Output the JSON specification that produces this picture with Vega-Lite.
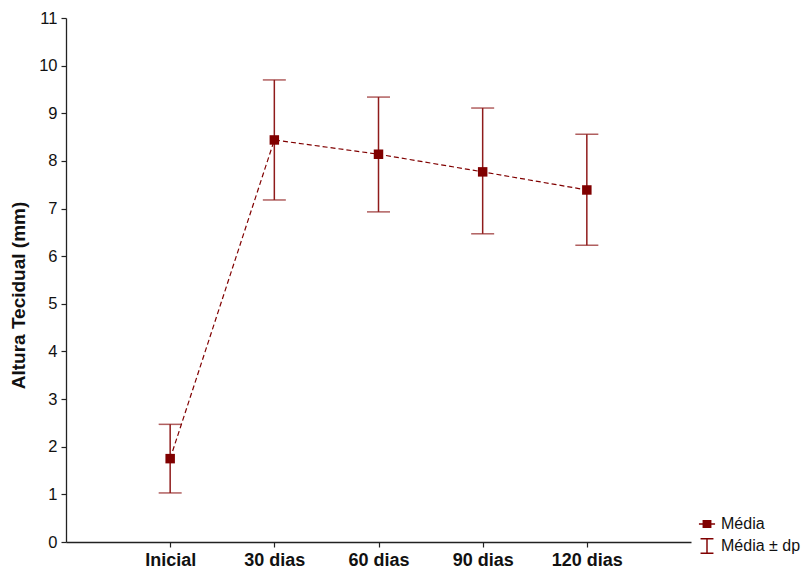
{
  "$schema": "https://vega.github.io/schema/vega-lite/v6.json",
  "width": 625,
  "height": 524,
  "autosize": {"type": "none"},
  "padding": {"left": 66, "top": 18, "right": 120, "bottom": 31},
  "background": "white",
  "config": {
    "view": {"stroke": null},
    "font": "Liberation Sans",
    "axis": {"grid": false, "domainColor": "#222", "tickColor": "#222", "labelColor": "#111", "titleColor": "#111", "domainWidth": 1.3, "tickWidth": 1.2},
    "axisX": {"labelFontSize": 18, "labelFontWeight": "bold", "tickSize": 5, "labelPadding": 4, "labelAngle": 0},
    "axisY": {"labelFontSize": 16.5, "tickSize": 5, "labelPadding": 4, "titleFontSize": 19, "titleFontWeight": "bold", "titlePadding": 10, "titleY": 277}
  },
  "datasets": {
    "main": [
      {"tempo": "Inicial", "media": 1.75, "sup": 2.47, "inf": 1.03},
      {"tempo": "30 dias", "media": 8.44, "sup": 9.7, "inf": 7.18},
      {"tempo": "60 dias", "media": 8.14, "sup": 9.34, "inf": 6.93},
      {"tempo": "90 dias", "media": 7.77, "sup": 9.11, "inf": 6.47},
      {"tempo": "120 dias", "media": 7.39, "sup": 8.56, "inf": 6.23}
    ],
    "leg": [{"s": "Média"}, {"s": "Média ± dp"}]
  },
  "encoding": {
    "x": {
      "field": "tempo", "type": "ordinal",
      "scale": {"type": "point", "padding": 1, "domain": ["Inicial", "30 dias", "60 dias", "90 dias", "120 dias"]},
      "axis": {"title": null}
    }
  },
  "layer": [
    {
      "data": {"name": "main"},
      "mark": {"type": "rule", "stroke": "#8f1b1b", "strokeWidth": 1.5},
      "encoding": {
        "y": {"field": "inf", "type": "quantitative", "scale": {"domain": [0, 11], "nice": false}, "axis": {"title": "Altura Tecidual (mm)", "values": [0,1,2,3,4,5,6,7,8,9,10,11]}},
        "y2": {"field": "sup"}
      }
    },
    {
      "data": {"name": "main"},
      "mark": {"type": "tick", "color": "#8f1b1b", "size": 23, "thickness": 1.5, "orient": "horizontal"},
      "encoding": {"y": {"field": "sup", "type": "quantitative"}}
    },
    {
      "data": {"name": "main"},
      "mark": {"type": "tick", "color": "#8f1b1b", "size": 23, "thickness": 1.5, "orient": "horizontal"},
      "encoding": {"y": {"field": "inf", "type": "quantitative"}}
    },
    {
      "data": {"name": "main"},
      "mark": {"type": "line", "stroke": "#800000", "strokeWidth": 1.2, "strokeDash": [5, 3]},
      "encoding": {"y": {"field": "media", "type": "quantitative"}}
    },
    {
      "data": {"name": "main"},
      "mark": {"type": "square", "color": "#800000", "opacity": 1, "size": 90},
      "encoding": {"y": {"field": "media", "type": "quantitative"}}
    },
    {
      "data": {"name": "leg"},
      "mark": {"type": "point", "opacity": 0, "filled": true, "color": "#800000", "size": 260},
      "encoding": {
        "shape": {
          "field": "s", "type": "nominal",
          "scale": {"domain": ["Média", "Média ± dp"], "range": ["M-1,-0.09H1V0.09H-1Z M-0.55,-0.5H0.55V0.5H-0.55Z", "M-0.8,-1H0.8V-0.82H0.09V0.82H0.8V1H-0.8V0.82H-0.09V-0.82H-0.8Z"]},
          "legend": {
            "title": null, "orient": "none", "legendX": 632, "legendY": 497, "symbolSize": 260,
            "labelFontSize": 16, "labelColor": "#111", "rowPadding": 2, "labelOffset": 5,
            "encode": {"symbols": {"update": {"fill": {"value": "#8a1010"}, "strokeWidth": {"value": 0}, "opacity": {"value": 1}}}}
          }
        }
      }
    }
  ]
}
